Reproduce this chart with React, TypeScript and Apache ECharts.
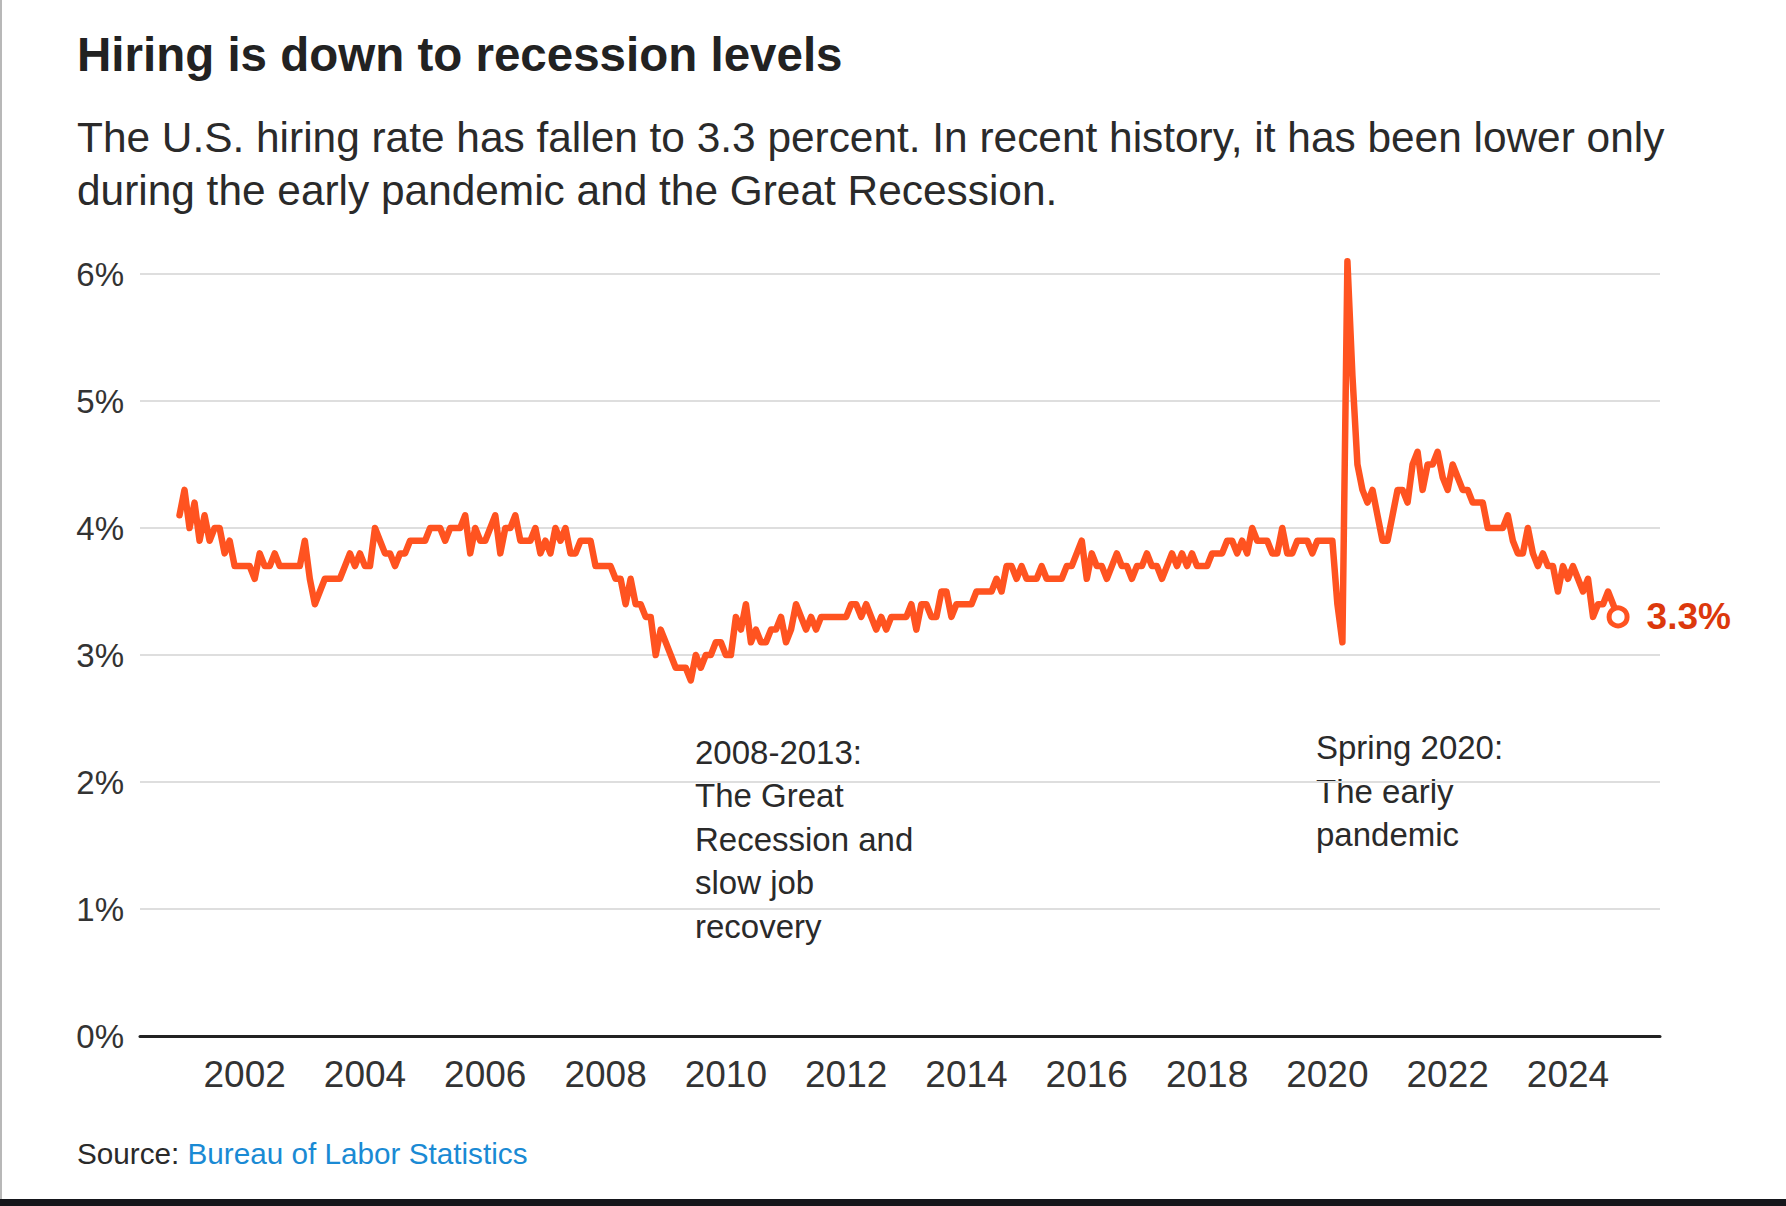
import React, { useEffect, useRef } from "react";
import * as echarts from "echarts";

const TITLE = "Hiring is down to recession levels";
const SUBTITLE_LINES = [
  "The U.S. hiring rate has fallen to 3.3 percent. In recent history, it has been lower only",
  "during the early pandemic and the Great Recession.",
];
const RECESSION_NOTE = ["2008-2013:", "The Great", "Recession and", "slow job", "recovery"];
const PANDEMIC_NOTE = ["Spring 2020:", "The early", "pandemic"];
const SOURCE_PREFIX = "Source: ";
const SOURCE_NAME = "Bureau of Labor Statistics";

// Monthly hiring rate (%), first observation December 2000
const FIRST_YEAR = 2000;
const FIRST_MONTH = 12;
const hiringRate = [
  // 2000 (Dec)
  4.1,
  // 2001
  4.3, 4.0, 4.2, 3.9, 4.1, 3.9, 4.0, 4.0, 3.8, 3.9, 3.7, 3.7,
  // 2002
  3.7, 3.7, 3.6, 3.8, 3.7, 3.7, 3.8, 3.7, 3.7, 3.7, 3.7, 3.7,
  // 2003
  3.9, 3.6, 3.4, 3.5, 3.6, 3.6, 3.6, 3.6, 3.7, 3.8, 3.7, 3.8,
  // 2004
  3.7, 3.7, 4.0, 3.9, 3.8, 3.8, 3.7, 3.8, 3.8, 3.9, 3.9, 3.9,
  // 2005
  3.9, 4.0, 4.0, 4.0, 3.9, 4.0, 4.0, 4.0, 4.1, 3.8, 4.0, 3.9,
  // 2006
  3.9, 4.0, 4.1, 3.8, 4.0, 4.0, 4.1, 3.9, 3.9, 3.9, 4.0, 3.8,
  // 2007
  3.9, 3.8, 4.0, 3.9, 4.0, 3.8, 3.8, 3.9, 3.9, 3.9, 3.7, 3.7,
  // 2008
  3.7, 3.7, 3.6, 3.6, 3.4, 3.6, 3.4, 3.4, 3.3, 3.3, 3.0, 3.2,
  // 2009
  3.1, 3.0, 2.9, 2.9, 2.9, 2.8, 3.0, 2.9, 3.0, 3.0, 3.1, 3.1,
  // 2010
  3.0, 3.0, 3.3, 3.2, 3.4, 3.1, 3.2, 3.1, 3.1, 3.2, 3.2, 3.3,
  // 2011
  3.1, 3.2, 3.4, 3.3, 3.2, 3.3, 3.2, 3.3, 3.3, 3.3, 3.3, 3.3,
  // 2012
  3.3, 3.4, 3.4, 3.3, 3.4, 3.3, 3.2, 3.3, 3.2, 3.3, 3.3, 3.3,
  // 2013
  3.3, 3.4, 3.2, 3.4, 3.4, 3.3, 3.3, 3.5, 3.5, 3.3, 3.4, 3.4,
  // 2014
  3.4, 3.4, 3.5, 3.5, 3.5, 3.5, 3.6, 3.5, 3.7, 3.7, 3.6, 3.7,
  // 2015
  3.6, 3.6, 3.6, 3.7, 3.6, 3.6, 3.6, 3.6, 3.7, 3.7, 3.8, 3.9,
  // 2016
  3.6, 3.8, 3.7, 3.7, 3.6, 3.7, 3.8, 3.7, 3.7, 3.6, 3.7, 3.7,
  // 2017
  3.8, 3.7, 3.7, 3.6, 3.7, 3.8, 3.7, 3.8, 3.7, 3.8, 3.7, 3.7,
  // 2018
  3.7, 3.8, 3.8, 3.8, 3.9, 3.9, 3.8, 3.9, 3.8, 4.0, 3.9, 3.9,
  // 2019
  3.9, 3.8, 3.8, 4.0, 3.8, 3.8, 3.9, 3.9, 3.9, 3.8, 3.9, 3.9,
  // 2020
  3.9, 3.9, 3.4, 3.1, 6.1, 5.2, 4.5, 4.3, 4.2, 4.3, 4.1, 3.9,
  // 2021
  3.9, 4.1, 4.3, 4.3, 4.2, 4.5, 4.6, 4.3, 4.5, 4.5, 4.6, 4.4,
  // 2022
  4.3, 4.5, 4.4, 4.3, 4.3, 4.2, 4.2, 4.2, 4.0, 4.0, 4.0, 4.0,
  // 2023
  4.1, 3.9, 3.8, 3.8, 4.0, 3.8, 3.7, 3.8, 3.7, 3.7, 3.5, 3.7,
  // 2024 (Jan-Nov)
  3.6, 3.7, 3.6, 3.5, 3.6, 3.3, 3.4, 3.4, 3.5, 3.4, 3.3,
];

const yearTicks = [2002, 2004, 2006, 2008, 2010, 2012, 2014, 2016, 2018, 2020, 2022, 2024];
const X_MIN = 2000.26;
const X_MAX = 2025.53;
const Y_MIN = 0;
const Y_MAX = 6;
const Y_STEP = 1;

const FONT = "'Liberation Sans', Arial, Helvetica, sans-serif";
const LINE_COLOR = "#ff5320";
const LABEL_RED = "#dc380c";
const TEXT_DARK = "#2a2a2a";

export default function App() {
  const ref = useRef<HTMLDivElement>(null);

  useEffect(() => {
    document.body.style.margin = "0";
    if (!ref.current) return;
    const chart = echarts.init(ref.current, null, { renderer: "svg", width: 1786, height: 1206 });

    const points = hiringRate.map((v, i) => [FIRST_YEAR + (FIRST_MONTH - 1 + i) / 12, v]);
    const last = points[points.length - 1];

    const text = (x: number, y: number, str: string, extra: any = {}) => ({
      type: "text",
      x,
      y,
      silent: true,
      style: {
        text: str,
        fontFamily: FONT,
        fill: TEXT_DARK,
        align: "left",
        verticalAlign: "middle",
        ...extra,
      },
    });

    chart.setOption({
      animation: false,
      backgroundColor: "#ffffff",
      grid: { left: 140, right: 126, top: 274, bottom: 170, containLabel: false },
      xAxis: {
        type: "value",
        min: X_MIN,
        max: X_MAX,
        axisLine: { show: true, onZero: true, lineStyle: { color: "#222", width: 3 } },
        axisTick: { show: false },
        splitLine: { show: false },
        axisLabel: {
          customValues: yearTicks,
          formatter: (v: number) => String(Math.round(v)),
          color: "#333",
          fontFamily: FONT,
          fontSize: 37,
          margin: 20,
        },
      },
      yAxis: {
        type: "value",
        min: Y_MIN,
        max: Y_MAX,
        interval: Y_STEP,
        axisLine: { show: false },
        axisTick: { show: false },
        splitLine: { show: true, lineStyle: { color: "#dedede", width: 2 } },
        axisLabel: {
          formatter: (v: number) => `${v}%`,
          color: "#333",
          fontFamily: FONT,
          fontSize: 33,
          margin: 16,
        },
      },
      series: [
        {
          type: "line",
          data: points,
          showSymbol: false,
          symbol: "none",
          clip: false,
          lineStyle: { color: LINE_COLOR, width: 6.5, join: "round", cap: "round" },
          z: 3,
        },
        {
          type: "scatter",
          data: [last],
          symbol: "circle",
          symbolSize: 18,
          clip: false,
          itemStyle: { color: "#ffffff", borderColor: LINE_COLOR, borderWidth: 5, opacity: 1 },
          label: {
            show: true,
            position: "right",
            distance: 17,
            formatter: (p: any) => `${p.value[1].toFixed(1)}%`,
            color: LABEL_RED,
            fontFamily: FONT,
            fontWeight: "bold",
            fontSize: 37,
          },
          z: 4,
        },
      ],
      graphic: [
        { type: "rect", silent: true, shape: { x: 0, y: 0, width: 2, height: 1206 }, style: { fill: "#b8b8b8" } },
        { type: "rect", silent: true, shape: { x: 0, y: 1199, width: 1786, height: 7 }, style: { fill: "#15161b" } },
        text(77, 54, TITLE, { fontSize: 47.5, fontWeight: "bold", fill: "#222" }),
        text(77, 137, SUBTITLE_LINES[0], { fontSize: 42.4, fill: "#2a2a2a" }),
        text(77, 190.5, SUBTITLE_LINES[1], { fontSize: 42.4, fill: "#2a2a2a" }),
        text(695, 839, RECESSION_NOTE.join("\n"), { fontSize: 33, lineHeight: 43.5, fill: "#2a2a2a" }),
        text(1316, 791, PANDEMIC_NOTE.join("\n"), { fontSize: 33, lineHeight: 43.5, fill: "#2a2a2a" }),
        {
          type: "text",
          x: 77,
          y: 1153,
          silent: true,
          style: {
            text: `{a|${SOURCE_PREFIX}}{b|${SOURCE_NAME}}`,
            fontFamily: FONT,
            fontSize: 29.7,
            verticalAlign: "middle",
            align: "left",
            rich: {
              a: { fill: "#2a2a2a", fontFamily: FONT, fontSize: 29.7 },
              b: { fill: "#1a8ad4", fontFamily: FONT, fontSize: 29.7 },
            },
          },
        },
      ],
    });

    return () => chart.dispose();
  }, []);

  return <div ref={ref} style={{ width: 1786, height: 1206 }} />;
}
